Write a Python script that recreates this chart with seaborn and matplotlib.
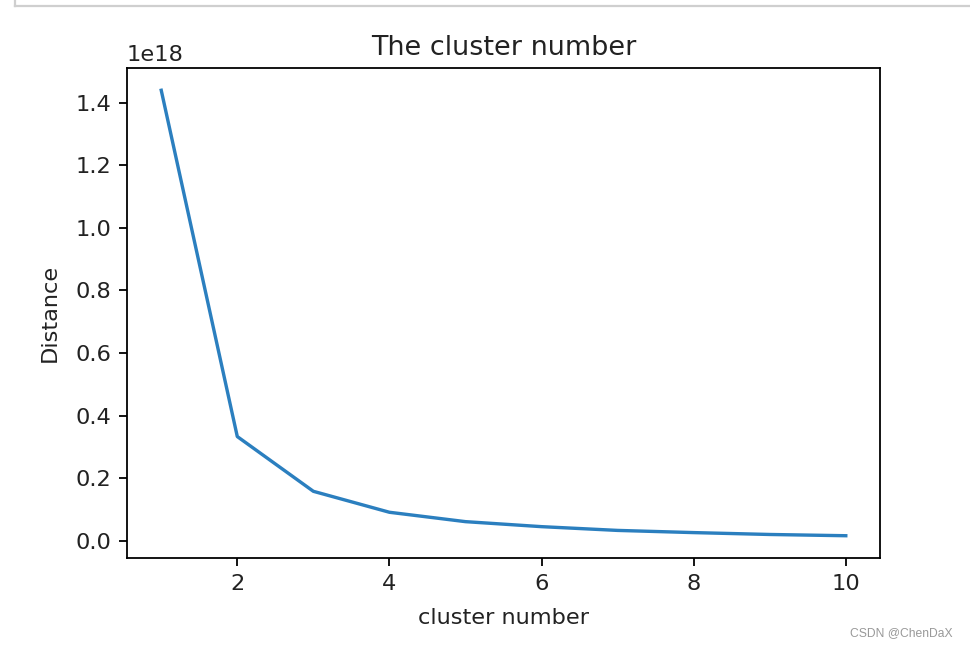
import numpy as np
import pandas as pd
import matplotlib
matplotlib.use("Agg")
import matplotlib.pyplot as plt
import seaborn as sns

# elbow curve values
cluster_number = [1, 2, 3, 4, 5, 6, 7, 8, 9, 10]
distance = [1.44e18, 0.333e18, 0.158e18, 0.091e18, 0.061e18,
            0.045e18, 0.033e18, 0.026e18, 0.020e18, 0.016e18]

df = pd.DataFrame({"cluster number": cluster_number, "Distance": distance})

fig = plt.figure(figsize=(6, 648 / 161.67), dpi=161.67)
ax = fig.add_axes([127 / 970, 90 / 648, 753 / 970, 490 / 648])

sns.lineplot(data=df, x="cluster number", y="Distance", color="#2b7fbf", ax=ax)

ax.set_title("The cluster number", color="#222222")
ax.set_xlabel("cluster number", labelpad=6.5, color="#222222")
ax.set_ylabel("Distance", labelpad=7, color="#222222")
ax.set_xticks([2, 4, 6, 8, 10])
ax.tick_params(labelcolor="#222222")

# notebook cell border at the top and the watermark
fig.add_artist(plt.Line2D([15 / 970, 1], [1 - 6 / 648, 1 - 6 / 648],
                          color="#cfcfcf", lw=1, transform=fig.transFigure))
fig.add_artist(plt.Line2D([15 / 970, 15 / 970], [1 - 6 / 648, 1],
                          color="#cfcfcf", lw=1, transform=fig.transFigure))
fig.text(953 / 970, 1 - 633 / 648, "CSDN @ChenDaX", ha="right", va="center",
         fontsize=5.4, color="#999999", family="Liberation Sans")

fig.savefig("out.png", dpi=161.67)
